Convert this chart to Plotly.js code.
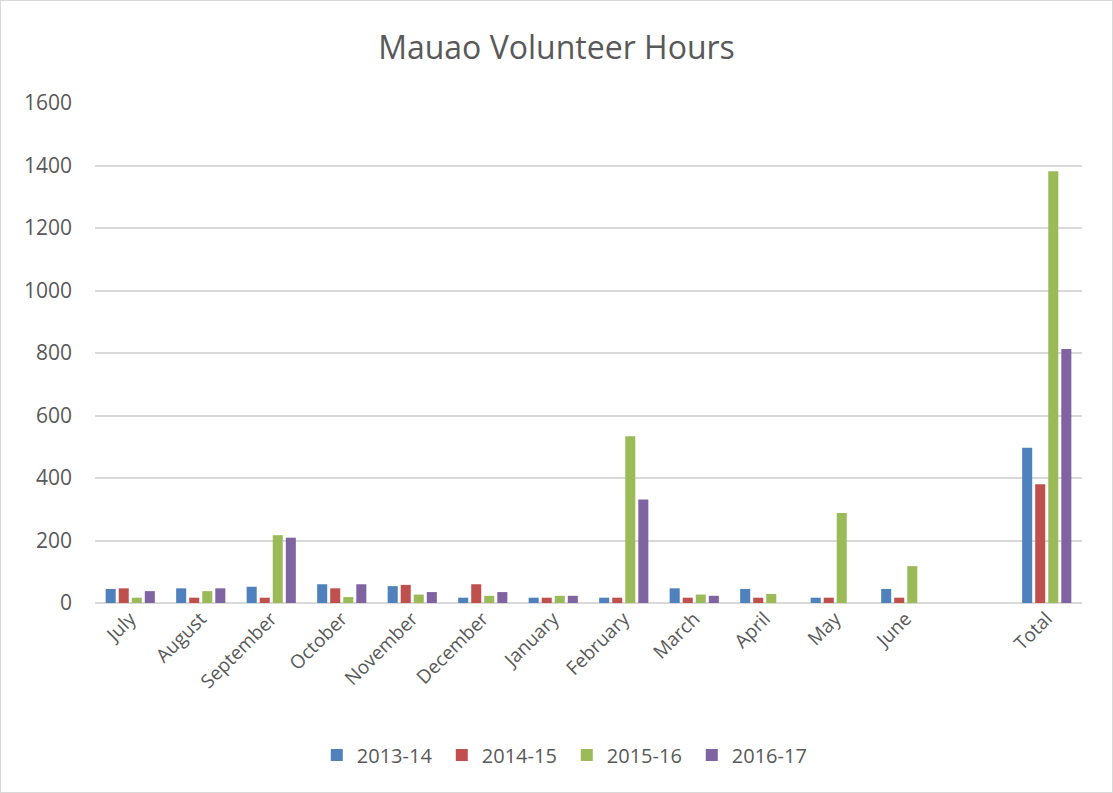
<!DOCTYPE html>
<html>
<head>
<meta charset="utf-8">
<script src="https://cdn.plot.ly/plotly-3.0.1.min.js"></script>
<style>
  html, body { margin: 0; padding: 0; background: #ffffff; }
  #chart { width: 1113px; height: 793px; box-sizing: border-box; border: 1px solid #d9d9d9; }
</style>
</head>
<body>
<div id="chart"></div>
<script>
const categories = ["July", "August", "September", "October", "November", "December", "January", "February", "March", "April", "May", "June", " ", "Total"];
const seriesNames = ["2013-14", "2014-15", "2015-16", "2016-17"];
const s2013_14 = [45, 47, 52, 60, 54, 17, 17, 17, 47, 45, 17, 45, null, 497];
const s2014_15 = [47, 17, 17, 47, 58, 60, 17, 17, 17, 17, 17, 17, null, 380];
const s2015_16 = [17, 38, 217, 19, 27, 23, 23, 534, 27, 29, 288, 118, null, 1382];
const s2016_17 = [38, 47, 209, 60, 35, 35, 23, 331, 23, null, null, null, null, 813];
const colors = ["#4F81BD", "#C0504D", "#9BBB59", "#8064A2"];
const yTicks = [0, 200, 400, 600, 800, 1000, 1200, 1400, 1600];

const allSeries = [s2013_14, s2014_15, s2015_16, s2016_17];
const traces = allSeries.map((vals, i) => ({
  type: "bar",
  name: seriesNames[i],
  x: categories,
  y: vals,
  marker: { color: colors[i], line: { width: 0 } },
  hoverinfo: "x+y+name"
}));

const font = "Open Sans, Liberation Sans, sans-serif";
const layout = {
  width: 1111,
  height: 791,
  margin: { l: 94, r: 30, t: 102, b: 189 },
  paper_bgcolor: "#ffffff",
  plot_bgcolor: "#ffffff",
  barmode: "group",
  bargap: 0.26,
  bargroupgap: 0.23,
  title: {
    text: "Mauao Volunteer Hours",
    font: { family: font, size: 32, color: "#595959" },
    x: 0.5, xanchor: "center",
    y: 1 - 47 / 791, yanchor: "middle"
  },
  xaxis: {
    type: "category",
    categoryorder: "array",
    categoryarray: categories,
    tickangle: -45,
    tickfont: { family: font, size: 19, color: "#595959" },
    showgrid: false,
    showline: false,
    ticks: "",
    zeroline: false
  },
  yaxis: {
    range: [0, 1600],
    tickmode: "array",
    tickvals: yTicks,
    ticktext: yTicks.map(String),
    tickfont: { family: font, size: 21, color: "#595959" },
    gridcolor: "#d9d9d9",
    gridwidth: 1.5,
    zeroline: true,
    zerolinecolor: "#d9d9d9",
    zerolinewidth: 1.5,
    showline: false,
    ticks: "",
    ticklabelstandoff: 22
  },
  legend: {
    orientation: "h",
    x: 0.478, xanchor: "center",
    y: -0.304, yanchor: "middle",
    font: { family: font, size: 20, color: "#595959" },
    traceorder: "normal",
    entrywidth: 80,
    entrywidthmode: "pixels",
    itemwidth: 30
  },
  showlegend: true
};

Plotly.newPlot("chart", traces, layout, { displayModeBar: false, staticPlot: false });
</script>
</body>
</html>
